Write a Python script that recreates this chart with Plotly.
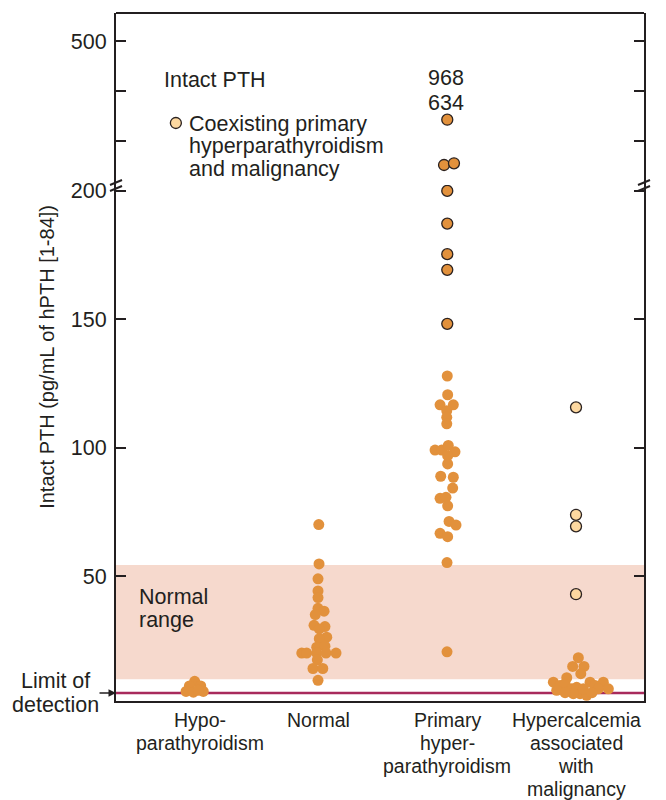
import plotly.graph_objects as go

# ---------------- data ----------------
categories = ["Hypo-<br>parathyroidism", "Normal", "Primary<br>hyper-<br>parathyroidism",
              "Hypercalcemia<br>associated<br>with<br>malignancy"]

hypo_vals = [9.2, 7.4, 7.4, 5.3, 5.0, 5.3, 5.7]
hypo_off = [0.038, -0.003, 0.085, -0.029, 0.028, 0.105, 0.066]

normal_vals = [70.2, 54.9, 49.1, 44.4, 41.8, 37.6, 36.5, 35.2, 31.0, 30.5, 29.6, 26.4, 25.8,
               22.5, 22.9, 20.2, 20.2, 20.2, 20.2, 20.2, 17.6, 14.2, 14.2, 9.6]
normal_off = [0.002, 0.004, -0.004, -0.004, -0.004, -0.004, 0.043, -0.025, -0.035, 0.05, 0.006,
              0.064, 0.006, -0.014, 0.05, -0.13, -0.092, -0.014, 0.058, 0.136, -0.009, -0.043,
              0.033, -0.004]

primary_vals = [128, 120.7, 116.8, 116.8, 114.5, 111.9, 109.4, 99.2, 99.2, 101, 98.5, 97, 93.8,
                89, 88.6, 84.4, 80.4, 80.8, 77.5, 71.4, 70, 66.8, 65.5, 55.4, 20.7]
primary_off = [0.0, 0.003, -0.056, 0.047, -0.004, -0.004, -0.004, -0.095, -0.043, 0.008, 0.06,
               0.003, 0.003, -0.051, 0.047, 0.042, -0.056, -0.01, 0.003, 0.014, 0.068, -0.056,
               0.003, -0.002, -0.002]
primary_high_vals = [200, 187.3, 175.4, 169.3, 148.3]
primary_high_off = [0, 0, 0, 0, 0]
primary_top_vals = [342.6, 252, 255.4]
primary_top_off = [0.0, -0.025, 0.052]
offscale_labels = "968<br>634"

malig_vals = [18.4, 15, 15, 12.2, 8.9, 10.6, 7.6, 8.3, 6.3, 6.9, 8.9, 7.6, 8.9, 6.3, 4.4, 3.8,
              4.4, 6.3, 6.3, 5.7, 4.8, 4.8]
malig_off = [0.018, -0.026, 0.062, 0.037, -0.176, -0.072, -0.124, -0.085, -0.033, 0.005, 0.109,
             0.148, 0.212, 0.251, 0.031, 0.083, -0.021, 0.173, 0.057, -0.15, -0.085, 0.124]
coexist_vals = [115.8, 74, 69.5, 43.1]
coexist_off = [0, 0, 0, 0]

normal_range = [10, 54.5]
detection_limit = 4.7
lower_ticks = [50, 100, 150, 200]
upper_ticks = [300, 400, 500]
upper_ticktext = ["", "", "500"]

# ---------------- styles ----------------
ORANGE = "#E2913C"
LIGHT = "#FDD8A0"
EDGE = "#2B2220"
INK = "#231F20"
BAND = "#F6D9CD"
LOD = "#A82A5C"
FONT = "Liberation Sans, Arial, Helvetica, sans-serif"
FS_IN = 21.5     # texts inside the plot and tick numbers
FS_CAT = 19.5    # category labels
FS_TITLE = 20    # y-axis title
MS = 11
CAT_XSHIFT = [10, 0, 0, 0]   # label nudges (px)

fig = go.Figure()


def pts(idx, offs):
    return [idx + o for o in offs]


plain = dict(size=MS, color=ORANGE, line=dict(width=0))
edged = dict(size=MS, color=ORANGE, line=dict(width=1.3, color=EDGE))
light = dict(size=MS, color=LIGHT, line=dict(width=1.3, color=EDGE))

fig.add_trace(go.Scatter(x=pts(0, hypo_off), y=hypo_vals, mode="markers", marker=plain))
fig.add_trace(go.Scatter(x=pts(1, normal_off), y=normal_vals, mode="markers", marker=plain))
fig.add_trace(go.Scatter(x=pts(2, primary_off), y=primary_vals, mode="markers", marker=plain))
fig.add_trace(go.Scatter(x=pts(2, primary_high_off), y=primary_high_vals, mode="markers", marker=edged))
fig.add_trace(go.Scatter(x=pts(2, primary_top_off), y=primary_top_vals, mode="markers",
                         marker=edged, yaxis="y2"))
fig.add_trace(go.Scatter(x=pts(3, malig_off), y=malig_vals, mode="markers", marker=plain))
fig.add_trace(go.Scatter(x=pts(3, coexist_off), y=coexist_vals, mode="markers", marker=light))
# legend key marker
fig.add_trace(go.Scatter(x=[-0.108], y=[336], mode="markers", marker=light, yaxis="y2"))

shapes = [
    dict(type="rect", xref="paper", yref="y", x0=0, x1=1, y0=normal_range[0], y1=normal_range[1],
         fillcolor=BAND, line=dict(width=0), layer="below"),
    dict(type="line", xref="paper", yref="y", x0=0, x1=1, y0=detection_limit, y1=detection_limit,
         line=dict(color=LOD, width=2.5), layer="below"),
    dict(type="line", xref="paper", yref="paper", x0=0, x1=1, y0=1, y1=1,
         line=dict(color=INK, width=2)),
]
# axis-break slashes on both sides
for xc in (0, 1):
    for yc in (0.7536, 0.7449):
        shapes.append(dict(type="line", xref="paper", yref="paper",
                           x0=xc - 0.0114, x1=xc + 0.0114, y0=yc - 0.0036, y1=yc + 0.0036,
                           line=dict(color=INK, width=2)))

annotations = []


def font(size):
    return dict(family=FONT, size=size, color=INK)


def multiline(text, x, y, xref, yref, size, spacing, xanchor="center", first_shift=None,
              xshift=0):
    lines = text.split("<br>")
    n = len(lines)
    for i, ln in enumerate(lines):
        if first_shift is None:
            shift = ((n - 1) / 2 - i) * spacing
        else:
            shift = first_shift - i * spacing
        annotations.append(dict(text=ln, x=x, y=y, xref=xref, yref=yref, xanchor=xanchor,
                                yanchor="middle", yshift=shift, xshift=xshift,
                                showarrow=False, font=font(size)))


annotations.append(dict(text="Intact PTH", x=-0.215, y=422, xref="x", yref="y2",
                        xanchor="left", showarrow=False, font=font(FS_IN)))
multiline("Coexisting primary<br>hyperparathyroidism<br>and malignancy", -0.021, 290,
          "x", "y2", FS_IN, 22.5, xanchor="left")
multiline(offscale_labels, 1.99, 402, "x", "y2", FS_IN, 25)
multiline("Normal<br>range", -0.409, 37.7, "x", "y", FS_IN, 23, xanchor="left")
multiline("Limit of<br>detection", -0.114, detection_limit, "paper", "y", FS_IN, 24)
annotations.append(dict(text="", x=0, y=detection_limit, xref="paper", yref="y",
                        ax=-18, ay=0, showarrow=True, arrowhead=2, arrowsize=1,
                        arrowwidth=1.5, arrowcolor=INK))
annotations.append(dict(text="Intact PTH (pg/mL of hPTH [1-84])", x=-0.131, y=0.5,
                        xref="paper", yref="paper", xanchor="center", yanchor="middle",
                        textangle=-90, showarrow=False, font=font(FS_TITLE)))
for i, cat in enumerate(categories):
    multiline(cat, i, 0, "x", "paper", FS_CAT, 23, first_shift=-19, xshift=CAT_XSHIFT[i])

axis_common = dict(showline=True, linecolor=INK, linewidth=2, mirror="ticks", ticks="inside",
                   ticklen=10, tickwidth=2, tickcolor=INK, showgrid=False, zeroline=False,
                   tickfont=font(FS_IN), ticklabelstandoff=3, automargin=False)

# the page body adds an 8 px offset, so the figure is 8 px smaller and margins shifted
fig.update_layout(
    width=658, height=792,
    margin=dict(l=108, r=22, t=5, b=99, autoexpand=False),
    paper_bgcolor="white", plot_bgcolor="white",
    showlegend=False,
    font=dict(family=FONT, color=INK),
    xaxis=dict(range=[-0.573, 3.528], tickvals=[0, 1, 2, 3], showticklabels=False,
               showline=True, linecolor=INK, linewidth=2, ticks="", showgrid=False,
               zeroline=False, anchor="y", automargin=False),
    yaxis=dict(domain=[0, 0.75], range=[1.56, 202.3], tickvals=lower_ticks, **axis_common),
    yaxis2=dict(domain=[0.75, 1], range=[212, 556], tickvals=upper_ticks,
                ticktext=upper_ticktext, anchor="x", **axis_common),
    shapes=shapes,
    annotations=annotations,
)

fig.write_html("out.html")
